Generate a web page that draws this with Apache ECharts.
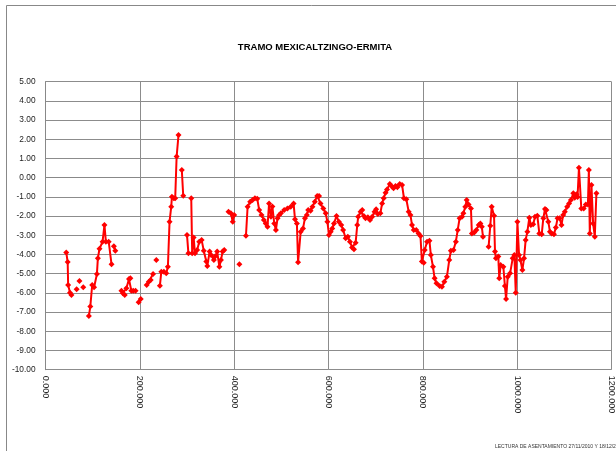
<!DOCTYPE html>
<html>
<head>
<meta charset="utf-8">
<script src="https://cdn.jsdelivr.net/npm/echarts@6/dist/echarts.min.js"></script>
<style>
html,body{margin:0;padding:0;background:#fff;}
#chart{width:616px;height:451px;}
</style>
</head>
<body>
<div id="chart"></div>
<script>
const chartTitle = "TRAMO MEXICALTZINGO-ERMITA";
const footerText = "LECTURA DE ASENTAMIENTO 27/11/2010 Y 18/12/2010";
const xTicks = [0, 200, 400, 600, 800, 1000, 1200];
const yTicks = [5, 4, 3, 2, 1, 0, -1, -2, -3, -4, -5, -6, -7, -8, -9, -10];

// distance (null = gap in the series)
const distance = [
44,47,48,52,55,null,66,null,72,null,80,null,
92,95,99,103,109,111,114.5,121,125,128,134,140,null,145,148,null,
161,164,168,171.5,177,180,182,186,191,null,197.5,202,null,
214.5,219,223,228,null,235,null,
242.5,245.5,251,256,259.5,263,266.6,268,272,275,278,282,null,
289,292,null,300,303,null,
309,311,314,317,321.5,326,331,335.5,341,343,348,351,357,359.5,364,368.7,372,375.5,379,null,
388,393,397,400,null,411,null,
425,428.5,434,439,444,449,453,458,463,467,470.7,474,478,481,485,488.5,492,495,499,506,513,520,526,529,533,535.5,
541,546,550,554,557,562,566,571,576,580,583,589,594,597.6,601,604.7,608,611.6,617,622,627,631,636.5,641,645.5,650,654,657.5,
661,663,668,671.5,675,678.5,683.5,688,692.6,697.6,701,704.6,710,713.7,717,721,724,730,735,738,742,746,751,756,760,765,770,773.7,
777,780.7,786,791,795,798,802,804,809,814,817,821.5,825,829,835.6,840.5,845.5,851,856,859.5,865,870,874,878,883,886,890,893,897,
902,904,909,913.5,918.5,922,925,927.5,null,
939.5,943,946,951,953,955,960,962,965,970.7,974,976.5,980,985,990.5,994,997,1000.5,1004,1007,1011,1014.6,1018,1021.6,1025.8,
1029,1034,1037.8,1042.7,1047,1052,1055.5,1059,1062,1066,1069.5,1073,1078,1082,1085.6,1090,1094,1097.6,1101,1106,1110,1114,1119,
1122,1125.7,1128,1131,1136,1141,1145.5,1150,1152,1154,1157.5,1161,1164.6,1168
];
// settlement
const settlement = [
-3.89,-4.39,-5.59,-5.99,-6.11,null,-5.81,null,-5.38,null,-5.71,null,
-7.20,-6.71,-5.59,-5.71,-5.02,-4.20,-3.70,-3.33,-2.46,-3.33,-3.33,-4.51,null,-3.57,-3.80,null,
-5.89,-6.02,-6.11,-5.76,-5.28,-5.24,-5.89,-5.89,-5.89,null,-6.49,-6.32,null,
-5.59,-5.42,-5.33,-5.02,null,-4.29,null,
-5.63,-4.90,-4.90,-4.98,-4.64,-2.29,-1.51,-0.99,-1.07,-1.07,1.10,2.22,null,
0.40,-0.94,null,-2.98,-3.94,null,
-1.07,-3.94,-3.11,-3.94,-3.77,-3.33,-3.24,-3.80,-4.37,-4.60,-3.85,-4.03,-4.29,-4.11,-3.85,-4.64,-4.29,-3.85,-3.77,null,
-1.77,-1.85,-2.29,-1.94,null,-4.51,null,
-3.02,-1.51,-1.25,-1.16,-1.07,-1.10,-1.68,-1.94,-2.20,-2.38,-2.55,-1.34,-2.03,-1.50,-2.38,-2.72,-2.11,-1.95,-1.85,-1.68,-1.60,-1.51,-1.34,-2.17,-2.38,-4.41,
-2.81,-2.64,-2.11,-1.94,-1.68,-1.72,-1.51,-1.25,-0.95,-0.95,-1.34,-1.60,-1.85,-2.29,-2.98,-2.81,-2.64,-2.38,-2.00,-2.29,-2.46,-2.72,-3.16,-3.07,-3.33,-3.63,-3.73,-3.39,
-2.46,-2.03,-1.77,-1.68,-2.00,-2.11,-2.06,-2.20,-2.03,-1.77,-1.64,-1.89,-1.85,-1.34,-1.07,-0.78,-0.61,-0.33,-0.47,-0.55,-0.43,-0.50,-0.33,-0.38,-1.07,-1.12,-1.77,-1.94,
-2.46,-2.72,-2.72,-2.90,-3.04,-4.37,-4.43,-3.77,-3.33,-3.28,-4.03,-4.64,-5.24,-5.50,-5.64,-5.68,-5.42,-5.16,-4.29,-3.80,-3.77,-3.33,-2.72,-2.11,-2.03,-1.85,-1.51,-1.16,-1.39,
-1.60,-2.90,-2.85,-2.72,-2.46,-2.38,-2.55,-3.07,null,
-3.59,-2.50,-1.51,-1.98,-3.85,-4.20,-4.11,-5.24,-4.55,-4.64,-5.64,-6.32,-5.16,-4.98,-4.20,-4.03,-5.99,-2.29,-4.03,-4.29,-4.81,-4.20,-3.24,-2.81,-2.08,
-2.46,-2.43,-2.03,-1.98,-2.90,-2.95,-2.11,-1.63,-1.68,-2.29,-2.81,-2.90,-2.95,-2.60,-2.11,-2.11,-2.46,-1.94,-1.77,-1.51,-1.34,-1.16,-0.81,
-1.04,-0.86,-1.00,0.52,-1.60,-1.60,-1.39,-1.40,0.40,-2.90,-0.38,-2.38,-3.07,-0.81
];

const seriesData = distance.map((d, i) =>
  (d === null || settlement[i] === null) ? ['-', '-'] : [d, settlement[i]]);

const chart = echarts.init(document.getElementById('chart'), null, {renderer: 'canvas'});
const font = '"Liberation Sans", Arial, sans-serif';
chart.setOption({
  animation: false,
  backgroundColor: '#ffffff',
  title: {
    text: chartTitle,
    left: 310, top: 37, textAlign: 'center',
    textStyle: {fontFamily: font, fontSize: 9.5, fontWeight: 'bold', color: '#000'}
  },
  grid: {left: 45.5, right: 3, top: 81.7, bottom: 81.3, containLabel: false},
  xAxis: {
    type: 'value', min: xTicks[0], max: xTicks[xTicks.length - 1], interval: 200,
    axisLine: {show: true, lineStyle: {color: '#888', width: 1}},
    axisTick: {show: false},
    splitLine: {show: true, lineStyle: {color: '#8c8c8c', width: 1}},
    axisLabel: {
      rotate: -90, margin: 6, fontFamily: font, fontSize: 9, color: '#222',
      formatter: v => v.toFixed(3)
    }
  },
  yAxis: {
    type: 'value', min: yTicks[yTicks.length - 1], max: yTicks[0], interval: 1,
    axisLine: {show: true, lineStyle: {color: '#888', width: 1}},
    axisTick: {show: false},
    splitLine: {show: true, lineStyle: {color: '#8c8c8c', width: 1}},
    axisLabel: {
      margin: 10, fontFamily: font, fontSize: 8.3, color: '#222',
      formatter: v => v.toFixed(2)
    }
  },
  series: [{
    type: 'line',
    data: seriesData,
    connectNulls: false,
    showAllSymbol: true,
    symbol: 'diamond',
    symbolSize: 6,
    lineStyle: {color: '#ff0000', width: 2},
    itemStyle: {color: '#ff0000'},
    z: 3
  }],
  graphic: [
    {type: 'rect', shape: {x: 6.5, y: 5.5, width: 700, height: 500}, style: {fill: 'none', stroke: '#888', lineWidth: 1}, z: -1},
    {type: 'text', left: 495, top: 444, style: {text: footerText, font: '5px ' + font, fill: '#333'}}
  ]
});
</script>
</body>
</html>
